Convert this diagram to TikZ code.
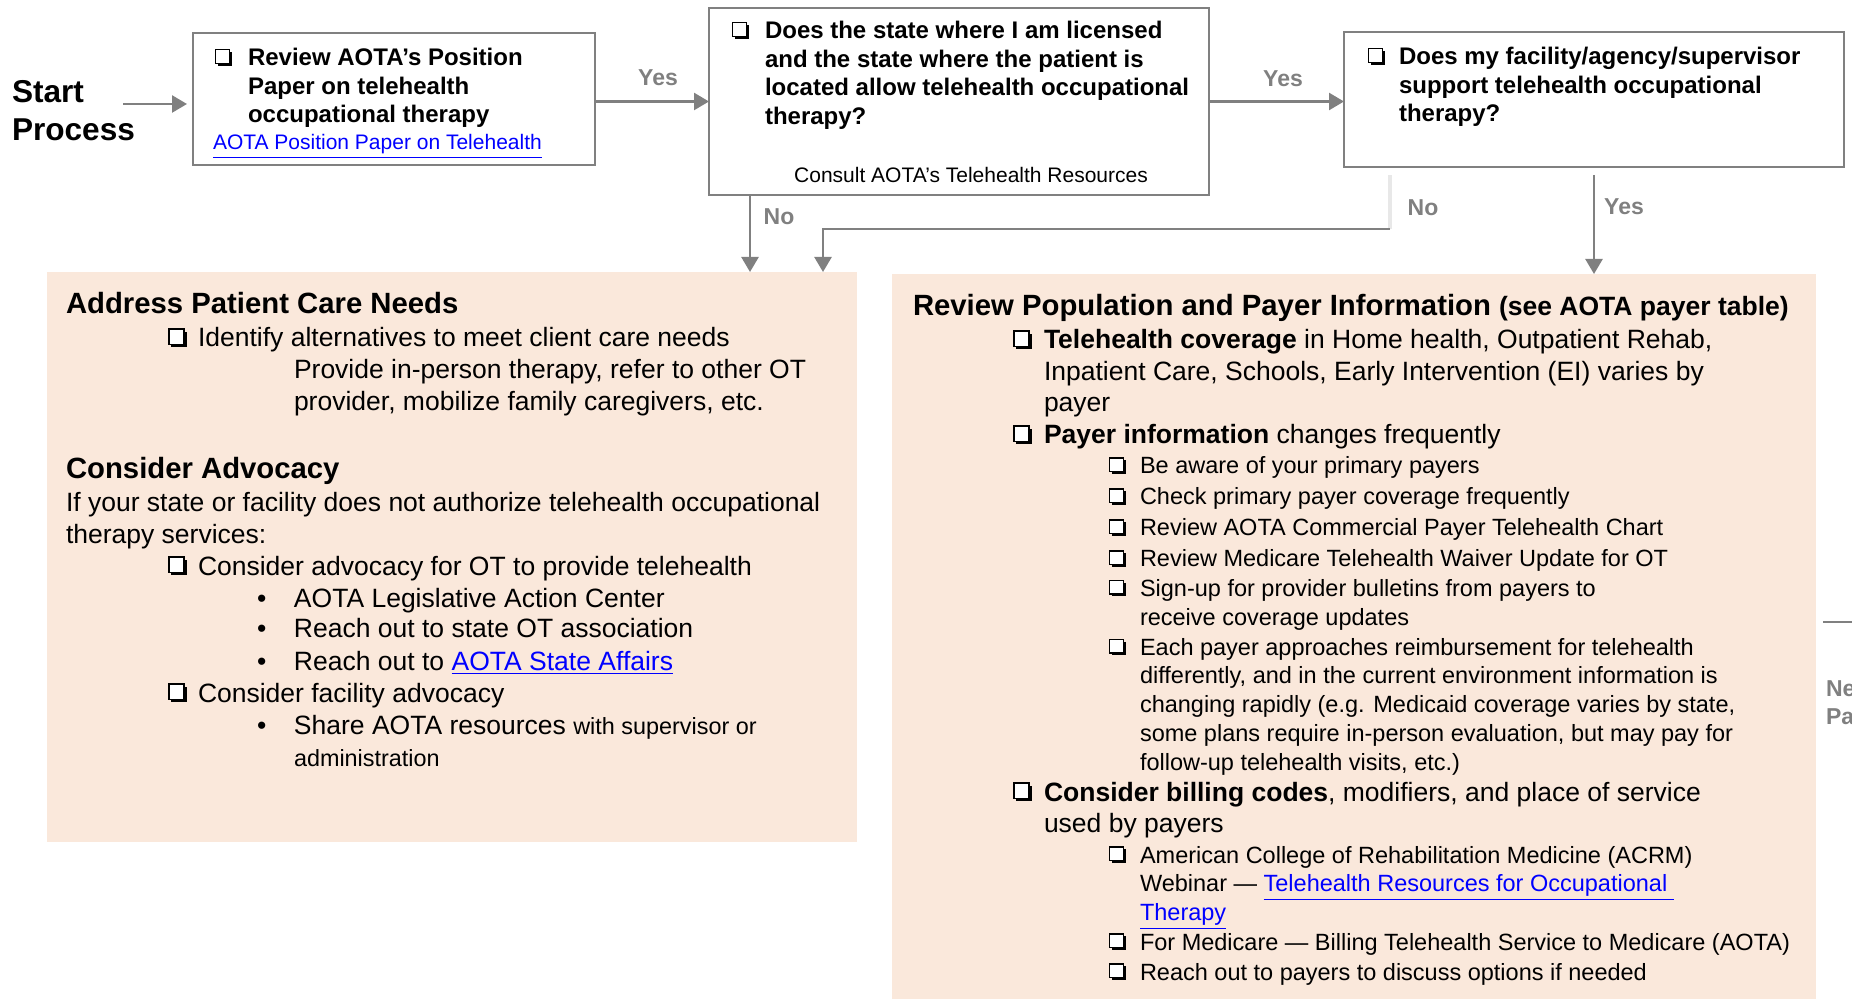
\documentclass[tikz,border=0pt]{standalone}
\usepackage{fontspec}
\setmainfont{Liberation Sans}
\usetikzlibrary{arrows.meta}

\definecolor{peach}{RGB}{250,232,219}
\definecolor{flowgray}{RGB}{128,128,128}
\definecolor{linkblue}{RGB}{0,0,255}

% shadowed check box, bullet and link helpers
\newcommand{\chk}{\tikz[baseline=-0.1em]{\fill (0.1em,-0.1em) rectangle (0.68em,0.48em); \filldraw[fill=white, line width=0.06em] (0,0) rectangle (0.58em,0.58em);}}
\newcommand{\cb}[1][15pt]{\llap{\makebox[#1][l]{\chk}}}
\newcommand{\bul}{\llap{\makebox[18.5pt][l]{\textbullet}}}
\newcommand{\lnk}[1]{\textcolor{linkblue}{\underline{#1}}}

\begin{document}
\begin{tikzpicture}[
	x=0.5pt, y=-0.5pt,
	every node/.style={inner sep=0pt, outer sep=0pt},
	qbox/.style={draw=flowgray, line width=1pt, fill=white},
	panel/.style={fill=peach, anchor=north west},
	qtext/.style={anchor=base west, align=left, font=\fontsize{12pt}{14.25pt}\selectfont\bfseries},
	note/.style={font=\fontsize{10.5pt}{12pt}\selectfont},
	head/.style={anchor=base west, font=\fontsize{14.65pt}{17pt}\selectfont\bfseries},
	body/.style={anchor=base west, align=left, font=\fontsize{13.25pt}{15.75pt}\selectfont},
	subtext/.style={anchor=base west, align=left, font=\fontsize{11.75pt}{14.35pt}\selectfont},
	answer/.style={text=flowgray, font=\fontsize{11.5pt}{14pt}\selectfont\bfseries},
	flow/.style={draw=flowgray, line width=1.25pt, -{Triangle[width=8.5pt,length=7.5pt]}},
	ghost/.style={draw=gray!18, line width=2pt}
]
\useasboundingbox (0,0) rectangle (1852,999);

% panels
\node[panel, minimum width=405pt, minimum height=285pt] (care) at (47,272) {};
\node[panel, minimum width=462pt, minimum height=370pt] (payer) at (892,274) {};

% question boxes (multi-line texts sit on their last baseline)
\node[anchor=base west, align=left, font=\fontsize{15.8pt}{19pt}\selectfont\bfseries] (start) at (12,141) {Start\\Process};
\node[qbox, minimum width=201pt, minimum height=66pt] (paper) at (394,99) {};
\node[qbox, minimum width=250pt, minimum height=93.5pt] (state) at (959,101.5) {};
\node[qbox, minimum width=250pt, minimum height=67.5pt] (facility) at (1594,99.5) {};

\node[qtext] (paper-t) at (248,123) {\cb[16.5pt]Review AOTA’s Position\\Paper on telehealth\\occupational therapy};
\node[note, anchor=base west] (paper-l) at (213,150) {\lnk{AOTA Position Paper on Telehealth}};
\node[qtext] (state-t) at (765,124.5) {\cb[16.5pt]Does the state where I am licensed\\and the state where the patient is\\located allow telehealth occupational\\therapy?};
\node[note, anchor=base] (state-c) at (971,183) {Consult AOTA’s Telehealth Resources};
\node[qtext] (facility-t) at (1399,122) {\cb[15.5pt]Does my facility/agency/supervisor\\support telehealth occupational\\therapy?};

% connectors
\coordinate (s0) at (123,104);
\draw[flow, shorten >=3pt] (s0) -- (s0 -| paper.west);
\draw[flow] (state.west -| paper.east) -- (state.west);
\draw[flow] (state.east) -- (state.east -| facility.west);
\coordinate (nodrop) at ([xshift=20.5pt]state.south west);
\draw[flow] (nodrop) -- (nodrop |- care.north);
\coordinate (nobend) at (1390,229);
\coordinate (nodrop2) at (823,229);
\draw[ghost] ([yshift=27pt]nobend) -- (nobend);
\draw[flow] (nobend) -- (nodrop2) -- (nodrop2 |- care.north);
\draw[flow, shorten <=4pt] (facility.south) -- (facility.south |- payer.north);

\node[answer] (yes1) at (658,78) {Yes};
\node[answer] (yes2) at (1283,79) {Yes};
\node[answer] (no1) at (779,217) {No};
\node[answer] (no2) at (1423,208) {No};
\node[answer] (yes3) at (1624,207) {Yes};

% left panel
\node[head] (care-h) at (66,314) {Address Patient Care Needs};
\node[body] (care-a) at (198,347) {\cb Identify alternatives to meet client care needs};
\node[body] (care-b) at (294,410.5) {Provide in-person therapy, refer to other OT\\provider, mobilize family caregivers, etc.};
\node[head] (adv-h) at (66,479) {Consider Advocacy};
\node[body] (adv-a) at (66,543.5) {If your state or facility does not authorize telehealth occupational\\therapy services:};
\node[body] (adv-b) at (198,575) {\cb Consider advocacy for OT to provide telehealth};
\node[body] (adv-c) at (294,608) {\bul AOTA Legislative Action Center};
\node[body] (adv-d) at (294,638) {\bul Reach out to state OT association};
\node[body] (adv-e) at (294,670) {\bul Reach out to \lnk{AOTA State Affairs}};
\node[body] (adv-f) at (198,702) {\cb Consider facility advocacy};
\node[body] (adv-g) at (294,766) {\bul Share AOTA resources {\fontsize{11.7pt}{15.5pt}\selectfont with supervisor or}\\{\fontsize{11.7pt}{15.5pt}\selectfont administration}};

% right panel
\node[head] (pay-h) at (913,316) {Review Population and Payer Information {\fontsize{13.25pt}{15pt}\selectfont(see AOTA payer table)}};
\node[body] (pay-a) at (1044,412) {\cb[15.5pt]\textbf{Telehealth coverage} in Home health, Outpatient Rehab,\\Inpatient Care, Schools, Early Intervention (EI) varies by\\payer};
\node[body] (pay-b) at (1044,444) {\cb[15.5pt]\textbf{Payer information} changes frequently};
\node[subtext] (pay-b1) at (1140,474) {\cb[15.5pt]Be aware of your primary payers};
\node[subtext] (pay-b2) at (1140,505) {\cb[15.5pt]Check primary payer coverage frequently};
\node[subtext] (pay-b3) at (1140,536) {\cb[15.5pt]Review AOTA Commercial Payer Telehealth Chart};
\node[subtext] (pay-b4) at (1140,567) {\cb[15.5pt]Review Medicare Telehealth Waiver Update for OT};
\node[subtext] (pay-b5) at (1140,625) {\cb[15.5pt]Sign-up for provider bulletins from payers to\\receive coverage updates};
\node[subtext] (pay-b6) at (1140,770) {\cb[15.5pt]Each payer approaches reimbursement for telehealth\\differently, and in the current environment information is\\changing rapidly (e.g. Medicaid coverage varies by state,\\some plans require in-person evaluation, but may pay for\\follow-up telehealth visits, etc.)};
\node[body] (pay-c) at (1044,832.5) {\cb[15.5pt]\textbf{Consider billing codes}, modifiers, and place of service\\used by payers};
\node[subtext] (pay-c1) at (1140,920.5) {\cb[15.5pt]American College of Rehabilitation Medicine (ACRM)\\Webinar — \lnk{Telehealth Resources for Occupational }\\\lnk{Therapy}};
\node[subtext] (pay-c2) at (1140,950) {\cb[15.5pt]For Medicare — Billing Telehealth Service to Medicare (AOTA)};
\node[subtext] (pay-c3) at (1140,980) {\cb[15.5pt]Reach out to payers to discuss options if needed};

% cut-off edge on the right
\coordinate (nx) at (1823,622);
\draw[draw=flowgray, line width=1.25pt] (nx) -- ++(40,0);
\node[answer, anchor=west, align=left] (nxt) at (1826,703) {Ne\\Pa};
\end{tikzpicture}
\end{document}
